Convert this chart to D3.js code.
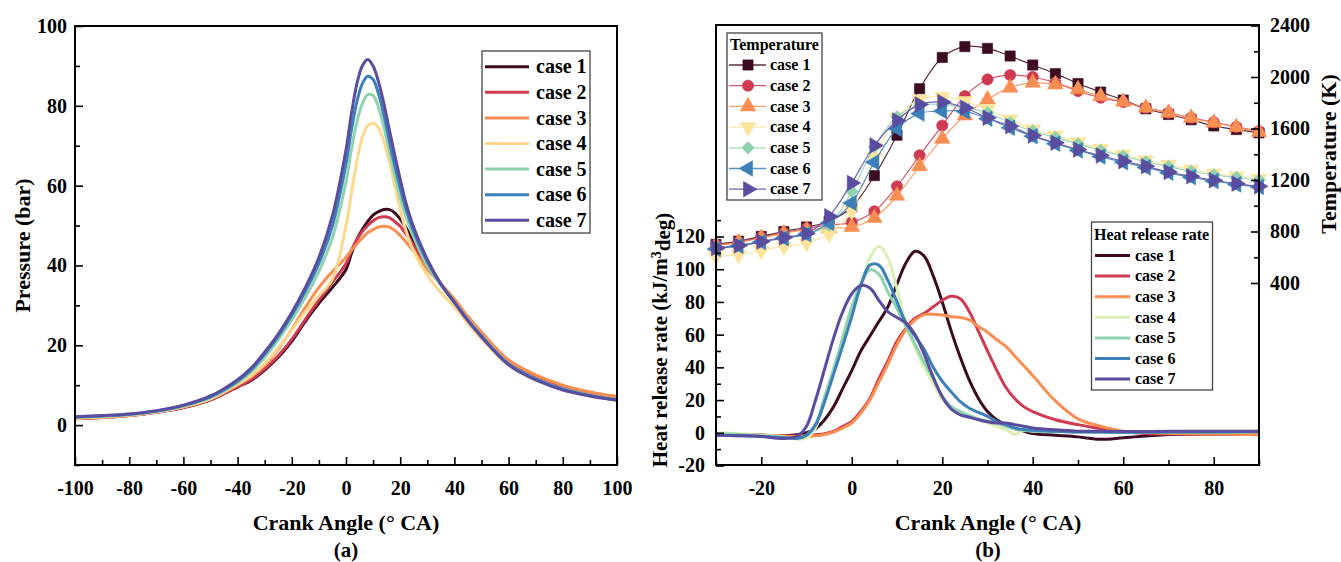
<!DOCTYPE html>
<meta charset="utf-8">
<style>
body { margin: 0; background: #fff; }
svg { display: block; }
svg text { font-family: "Liberation Serif", Tinos, "Times New Roman", Times, "DejaVu Serif", serif !important; font-weight: bold; fill: #000; }
.tick line { stroke: #000; stroke-width: 1.6; }
.tick text { font-size: 20px; }
.frame { fill: none; stroke: #000; stroke-width: 2; }
.legend-box { fill: #fff; stroke: #444; stroke-width: 1.3; }
</style>
<body>
<script src="https://cdn.jsdelivr.net/npm/d3@7"></script>
<script>
// ---------- data ----------
var cases = ["case 1", "case 2", "case 3", "case 4", "case 5", "case 6", "case 7"];

var pressureColors = ["#3d0b21", "#cf3a50", "#f98e52", "#fdd88c", "#8fd2b0", "#3b80b9", "#5a4c9e"];
var hrrColors      = ["#3d0b21", "#cf3a50", "#f98e52", "#dbf0b4", "#8fd2b0", "#3b80b9", "#5a4c9e"];
var tempColors     = ["#3d0b21", "#cf3a50", "#f98e52", "#fee39c", "#8fd2b0", "#3b80b9", "#5a4c9e"];

// (a) cylinder pressure, bar
var pressureAngle = [-100, -90, -80, -70, -60, -50, -40, -35, -30, -25, -20, -15, -10, -5, 0, 2, 4, 6, 8, 10,
                     12, 14, 16, 18, 20, 22, 25, 30, 35, 40, 45, 50, 60, 70, 80, 90, 100];
var pressure1 = [1.6, 1.9, 2.4, 3.2, 4.4, 6.3, 9.6, 11.2, 13.8, 17, 21, 26, 30.5, 34.5, 39, 43, 46.5, 49, 51, 52.6,
                 53.5, 54, 54, 53.2, 51.6, 49.6, 46, 40.2, 35.3, 31, 26.4, 22.4, 15.4, 11.6, 9.1, 7.5, 6.4];
var pressure2 = [1.6, 1.9, 2.4, 3.2, 4.4, 6.3, 9.6, 11.4, 14.1, 17.4, 21.5, 26.5, 31.3, 35.8, 40.5, 43.8, 46.5, 48.5, 50, 51.2,
                 52, 52.2, 52, 51, 49.8, 48, 45, 39.7, 35.2, 31.1, 26.6, 22.6, 15.7, 11.9, 9.4, 7.8, 6.7];
var pressure3 = [1.6, 1.9, 2.4, 3.3, 4.6, 6.6, 10.1, 12.1, 15, 19, 24, 29.5, 34.5, 38.5, 42, 43.8, 45.4, 46.9, 48.2, 49,
                 49.6, 49.8, 49.6, 48.8, 47.5, 46, 43.5, 39, 35.4, 31.6, 27.2, 23.3, 16.3, 12.6, 10, 8.3, 7.2];
var pressure4 = [1.7, 2, 2.5, 3.3, 4.6, 6.6, 10.2, 12.4, 15.4, 19.3, 23.8, 28.4, 32.4, 36.6, 50, 58, 66, 72, 75, 75.6,
                 74.5, 71, 66, 60, 54, 49, 43.5, 37.5, 33.2, 29.6, 25.4, 21.6, 15, 11.3, 8.9, 7.4, 6.3];
var pressure5 = [1.9, 2.2, 2.6, 3.4, 4.8, 6.9, 10.7, 13.3, 17, 21.4, 26.4, 32, 38.5, 47, 61, 69, 76, 80.5, 82.8, 82.6,
                 79.6, 74.6, 68.6, 62.6, 57, 52.5, 47, 40, 35, 30.8, 26.4, 22.4, 15.4, 11.6, 9.1, 7.5, 6.4];
var pressure6 = [2, 2.3, 2.7, 3.5, 4.9, 7.1, 11, 13.8, 17.8, 22.3, 27.5, 33.5, 40.5, 50, 65.5, 74, 81, 85.5, 87.4, 86.6,
                 83, 77.6, 71.2, 65, 59.5, 54.5, 48.5, 41, 35.3, 30.8, 26.3, 22.3, 15.3, 11.5, 9, 7.4, 6.3];
var pressure7 = [2.1, 2.4, 2.8, 3.6, 5, 7.3, 11.4, 14.3, 18.3, 22.8, 28.2, 34.5, 42, 52.5, 69, 78, 85.5, 90, 91.6, 90,
                 86, 80.5, 74, 67.6, 61.6, 56, 49.5, 41.5, 35.4, 30.7, 26.1, 22.1, 15.1, 11.3, 8.8, 7.3, 6.2];
var pressureSeries = [pressure1, pressure2, pressure3, pressure4, pressure5, pressure6, pressure7];

// (b) heat release rate, kJ/m3deg
var hrrAngle = [-30, -25, -20, -15, -12, -10, -8, -6, -4, -2, 0, 2, 4, 6, 8, 10, 12, 14, 16, 18, 20,
                22, 24, 26, 28, 30, 32, 34, 36, 38, 40, 45, 50, 55, 60, 65, 70, 80, 90];
var hrr1 = [-1, -1.2, -1.5, -1.8, -1.2, 0, 2.5, 8, 16, 27, 38, 50, 59, 68, 77, 91, 104, 111, 108, 96, 80,
            62, 46, 32, 21, 13, 8, 5, 2.5, 1, -0.5, -1.5, -2.5, -4, -3, -2, -1, -0.8, -0.5];
var hrr2 = [-1, -1.2, -1.5, -1.8, -2, -1.8, -1.2, -0.5, 1, 4, 7, 13, 21, 33, 44, 56, 64, 70, 73, 77, 81,
            83.5, 82, 74, 62, 50, 38.5, 28, 21, 16, 13, 8, 5, 2.5, 0.6, -0.5, -0.8, -1, -1];
var hrr3 = [-1.2, -1.4, -1.6, -2, -2.2, -2.2, -1.8, -1, 0.5, 3, 6, 12, 20, 31, 42, 54, 63, 69, 72.2, 72.5, 72,
            71, 70.5, 69, 65, 61.5, 57, 53, 47, 41, 35, 19.5, 8.5, 4, 1, 0.3, -0.3, -0.8, -1.2];
var hrr4 = [0, -0.5, -1.5, -2.5, -3.9, -3.2, 3, 20, 37, 56, 75, 89, 107, 114, 107, 88, 67, 52, 40, 30, 20.5,
            15, 12, 10, 8.5, 6, 3.9, 2, -1, 1.5, 1, 1, 0.8, 0.6, 0.5, 0.6, 0.8, 1, 1];
var hrr5 = [-0.5, -1, -1.8, -2.8, -3.4, -1.5, 5, 22, 39, 58, 77, 91, 99.5, 97, 86, 76, 65, 54, 43, 33, 22.5,
            16, 13, 10.5, 8.5, 7, 5.9, 4, 2.5, 1.5, 1, 0.8, 0.5, 0.5, 0.3, 0.3, 0.3, 0.3, 0.5];
var hrr6 = [-1.5, -1.8, -2.2, -3, -3.4, -1.5, 5, 19, 36, 53, 71, 90, 102.5, 102.5, 93, 80, 67, 59, 51, 40, 31.5,
            25, 19, 15, 12.5, 10, 7, 5, 3, 2, 1.5, 1, 0.5, 0.5, 0.3, 0.3, 0.5, 0.5, 0.8];
var hrr7 = [-1.6, -1.8, -2.2, -3.5, -2, 4, 20, 39, 58, 74, 85, 90, 88.5, 81, 74, 70.5, 67, 60, 48, 34, 22,
            14.5, 11, 9.5, 8, 6.8, 6, 6, 5, 4, 3, 1.8, 1, 1, 0.8, 0.8, 1, 1, 1];
var hrrSeries = [hrr1, hrr2, hrr3, hrr4, hrr5, hrr6, hrr7];

// (b) in-cylinder temperature, K (marker every 5 deg)
var tempAngle = [-30, -25, -20, -15, -10, -5, 0, 5, 10, 15, 20, 25, 30, 35, 40, 45, 50, 55, 60, 65, 70, 75, 80, 85, 90];
var temp1 = [700, 725, 762, 800, 835, 880, 990, 1234, 1548, 1909, 2152, 2236, 2222, 2163, 2093, 2026, 1949, 1883,
             1821, 1753, 1709, 1668, 1620, 1592, 1566];
var temp2 = [695, 720, 755, 790, 825, 850, 871, 957, 1151, 1392, 1623, 1852, 1981, 2015, 2000, 1956, 1891, 1839,
             1805, 1761, 1722, 1683, 1649, 1613, 1579];
var temp3 = [690, 715, 750, 785, 812, 826, 835, 905, 1078, 1307, 1520, 1701, 1826, 1917, 1956, 1942, 1904, 1850,
             1808, 1762, 1722, 1683, 1645, 1610, 1572];
var temp4 = [605, 620, 652, 684, 710, 780, 960, 1372, 1683, 1826, 1847, 1813, 1750, 1670, 1594, 1545, 1494, 1442,
             1398, 1353, 1318, 1281, 1250, 1229, 1208];
var temp5 = [668, 690, 720, 752, 782, 850, 1112, 1457, 1691, 1779, 1787, 1760, 1722, 1645, 1580, 1530, 1480, 1430,
             1385, 1342, 1305, 1268, 1240, 1220, 1200];
var temp6 = [664, 688, 718, 748, 778, 866, 1022, 1338, 1598, 1717, 1735, 1733, 1676, 1606, 1540, 1482, 1430, 1382,
             1338, 1298, 1256, 1222, 1192, 1166, 1146];
var temp7 = [672, 692, 722, 754, 786, 918, 1177, 1468, 1662, 1787, 1805, 1761, 1683, 1618, 1545, 1489, 1437, 1390,
             1346, 1307, 1262, 1229, 1198, 1172, 1151];
var tempSeries = [temp1, temp2, temp3, temp4, temp5, temp6, temp7];

// ---------- layout ----------
var W = 1341, H = 562;
var svg = d3.select("body").append("svg").attr("width", W).attr("height", H);

var xP = d3.scaleLinear().domain([-100, 100]).range([75, 617]);
var yP = d3.scaleLinear().domain([-10, 100]).range([465, 26]);

var xR = d3.scaleLinear().domain([-30, 90]).range([716, 1259]);
var yH = d3.scaleLinear().domain([-20, 120]).range([465.5, 236.5]);
var yT = d3.scaleLinear().domain([400, 2400]).range([283, 25.5]);

function ticksBetween(a, b, step) { return d3.range(a, b + step / 2, step); }

// inward ticks, plain hyphen for negatives
function drawAxes(g, axis, translate, majors, minors, padding) {
  g.append("g").attr("transform", translate)
    .call(axis.tickValues(minors).tickSize(-5).tickFormat(""))
    .call(function(s) { s.select(".domain").remove(); });
  g.append("g").attr("transform", translate)
    .call(axis.tickValues(majors).tickSize(-8).tickPadding(padding).tickFormat(function(d) { return String(d); }))
    .call(function(s) { s.select(".domain").remove(); s.attr("font-family", null); });
}

// ---------- (a) pressure ----------
var ga = svg.append("g");

var linePressure = d3.line()
    .x(function(d, i) { return xP(pressureAngle[i]); })
    .y(function(d) { return yP(d); })
    .curve(d3.curveCatmullRom.alpha(0.5));

ga.selectAll(".pline").data(pressureSeries).enter().append("path")
    .attr("fill", "none")
    .attr("stroke", function(d, i) { return pressureColors[i]; })
    .attr("stroke-width", 3)
    .attr("d", linePressure);

drawAxes(ga, d3.axisBottom(xP), "translate(0,465)",
         ticksBetween(-100, 100, 20), ticksBetween(-90, 90, 20), 16);
drawAxes(ga, d3.axisLeft(yP), "translate(75,0)",
         ticksBetween(0, 100, 20), ticksBetween(-10, 90, 20), 8);

ga.append("rect").attr("class", "frame")
    .attr("x", 75).attr("y", 26).attr("width", 617 - 75).attr("height", 465 - 26);

// legend (a)
var la = ga.append("g");
la.append("rect").attr("class", "legend-box")
    .attr("x", 482).attr("y", 51).attr("width", 108).attr("height", 182);
cases.forEach(function(c, i) {
  var y = 66.7 + i * 25.6;
  la.append("line").attr("x1", 485).attr("x2", 529).attr("y1", y).attr("y2", y)
      .attr("stroke", pressureColors[i]).attr("stroke-width", 3);
  la.append("text").attr("x", 536).attr("y", y).attr("dy", "0.33em")
      .style("font-size", "20px").text(c);
});

ga.append("text").attr("x", 346).attr("y", 530).attr("text-anchor", "middle")
    .style("font-size", "22px").text("Crank Angle (\u00b0 CA)");
ga.append("text").attr("x", 346).attr("y", 557).attr("text-anchor", "middle")
    .style("font-size", "21px").text("(a)");
ga.append("text").attr("transform", "translate(30,245.5) rotate(-90)").attr("text-anchor", "middle")
    .style("font-size", "22px").text("Pressure (bar)");

// ---------- (b) heat release rate + temperature ----------
var gb = svg.append("g");

var lineHrr = d3.line()
    .x(function(d, i) { return xR(hrrAngle[i]); })
    .y(function(d) { return yH(d); })
    .curve(d3.curveCatmullRom.alpha(0.5));

gb.selectAll(".hline").data(hrrSeries).enter().append("path")
    .attr("fill", "none")
    .attr("stroke", function(d, i) { return hrrColors[i]; })
    .attr("stroke-width", 3)
    .attr("d", lineHrr);

var lineTemp = d3.line()
    .x(function(d, i) { return xR(tempAngle[i]); })
    .y(function(d) { return yT(d); })
    .curve(d3.curveCatmullRom.alpha(0.5));

// marker shapes in legend order: square, circle, up, down, diamond, left, right
var markerShapes = [
  {type: d3.symbolSquare, size: 105, rot: 0},
  {type: d3.symbolCircle, size: 100, rot: 0},
  {type: d3.symbolTriangle, size: 105, rot: 0},
  {type: d3.symbolTriangle, size: 105, rot: 180},
  {type: d3.symbolSquare, size: 80, rot: 45},
  {type: d3.symbolTriangle, size: 105, rot: -90},
  {type: d3.symbolTriangle, size: 105, rot: 90}
];
function marker(sel, i, x, y) {
  var m = markerShapes[i];
  sel.append("path")
      .attr("d", d3.symbol().type(m.type).size(m.size)())
      .attr("transform", "translate(" + x + "," + y + ") rotate(" + m.rot + ")")
      .attr("fill", tempColors[i])
      .attr("stroke", tempColors[i]).attr("stroke-width", 0.6);
}

tempSeries.forEach(function(series, i) {
  var g = gb.append("g");
  g.append("path").attr("fill", "none")
      .attr("stroke", tempColors[i]).attr("stroke-opacity", 0.85).attr("stroke-width", 1.2)
      .attr("d", lineTemp(series));
  series.forEach(function(v, j) { marker(g, i, xR(tempAngle[j]), yT(v)); });
});

drawAxes(gb, d3.axisBottom(xR), "translate(0,465)",
         ticksBetween(-20, 80, 20), ticksBetween(-30, 90, 20), 16);
drawAxes(gb, d3.axisLeft(yH), "translate(716,0)",
         ticksBetween(-20, 120, 20), ticksBetween(-10, 130, 20), 11);
drawAxes(gb, d3.axisRight(yT), "translate(1259,0)",
         ticksBetween(400, 2400, 400), ticksBetween(600, 2200, 400), 11);

gb.append("rect").attr("class", "frame")
    .attr("x", 716).attr("y", 25).attr("width", 1259 - 716).attr("height", 465 - 25);

// temperature legend
var lt = gb.append("g");
lt.append("rect").attr("class", "legend-box")
    .attr("x", 727).attr("y", 33).attr("width", 95).attr("height", 167);
lt.append("text").attr("x", 730).attr("y", 45).attr("dy", "0.33em")
    .style("font-size", "16px").text("Temperature");
cases.forEach(function(c, i) {
  var y = 65 + i * 20.7;
  lt.append("line").attr("x1", 729).attr("x2", 766).attr("y1", y).attr("y2", y)
      .attr("stroke", tempColors[i]).attr("stroke-opacity", 0.85).attr("stroke-width", 1.3);
  marker(lt, i, 748, y);
  lt.append("text").attr("x", 770).attr("y", y).attr("dy", "0.33em")
      .style("font-size", "16px").text(c);
});

// heat release rate legend
var lh = gb.append("g");
lh.append("rect").attr("class", "legend-box")
    .attr("x", 1091.5).attr("y", 222).attr("width", 121).attr("height", 168);
lh.append("text").attr("x", 1094).attr("y", 235).attr("dy", "0.33em")
    .style("font-size", "16px").text("Heat release rate");
cases.forEach(function(c, i) {
  var y = 255.5 + i * 20.6;
  lh.append("line").attr("x1", 1095).attr("x2", 1130).attr("y1", y).attr("y2", y)
      .attr("stroke", hrrColors[i]).attr("stroke-width", 3);
  lh.append("text").attr("x", 1135).attr("y", y).attr("dy", "0.33em")
      .style("font-size", "16px").text(c);
});

gb.append("text").attr("x", 988).attr("y", 530).attr("text-anchor", "middle")
    .style("font-size", "22px").text("Crank Angle (\u00b0 CA)");
gb.append("text").attr("x", 988).attr("y", 557).attr("text-anchor", "middle")
    .style("font-size", "21px").text("(b)");

var hrrTitle = gb.append("text").attr("transform", "translate(667,340) rotate(-90)")
    .attr("text-anchor", "middle").style("font-size", "21px");
hrrTitle.append("tspan").text("Heat release rate (kJ/m");
hrrTitle.append("tspan").attr("dy", "-0.45em").style("font-size", "14px").text("3");
hrrTitle.append("tspan").attr("dy", "0.45em").text("deg)");

gb.append("text").attr("transform", "translate(1336,154) rotate(-90)").attr("text-anchor", "middle")
    .style("font-size", "22px").text("Temperature (K)");
</script>
</body>
